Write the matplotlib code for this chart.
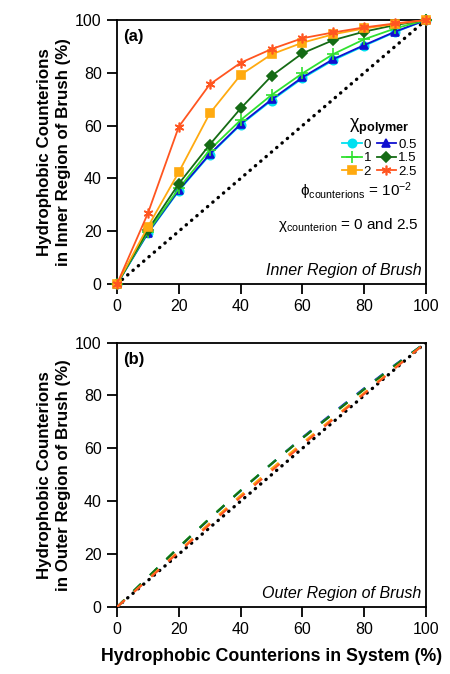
import matplotlib
matplotlib.use("Agg")
import matplotlib.pyplot as plt
import numpy as np

plt.rcParams["font.family"] = ["Liberation Sans", "DejaVu Sans"]
plt.rcParams["mathtext.fontset"] = "custom"
plt.rcParams["mathtext.rm"] = "Liberation Sans"
plt.rcParams["mathtext.it"] = "Liberation Sans:italic"
plt.rcParams["mathtext.bf"] = "Liberation Sans:bold"

# ── Data ──────────────────────────────────────────────────────────────────────
system_pct = [0, 10, 20, 30, 40, 50, 60, 70, 80, 90, 100]
chi_labels = ["0", "0.5", "1", "1.5", "2", "2.5"]

inner_chi0  = [0, 19.2, 35.3, 48.9, 60.3, 69.5, 77.9, 84.8, 90.2, 95.4, 100]
inner_chi05 = [0, 19.4, 35.6, 49.2, 60.6, 69.9, 78.3, 85.2, 90.5, 95.6, 100]
inner_chi1  = [0, 19.8, 36.2, 50.8, 62.1, 71.6, 79.8, 87.1, 92.7, 96.8, 100]
inner_chi15 = [0, 20.5, 38.0, 52.8, 66.5, 78.8, 87.4, 92.4, 95.6, 98.1, 100]
inner_chi2  = [0, 21.7, 42.4, 64.6, 79.2, 87.0, 91.4, 94.6, 96.8, 98.5, 100]
inner_chi25 = [0, 26.8, 59.6, 75.6, 83.8, 89.0, 93.1, 95.3, 97.2, 98.7, 100]

outer_chi0  = [0, 11.2, 22.5, 33.4, 43.9, 54.1, 63.9, 73.3, 82.5, 91.5, 100]
outer_chi05 = [0, 11.2, 22.5, 33.4, 44.0, 54.2, 64.1, 73.5, 82.7, 91.6, 100]
outer_chi1  = [0, 11.3, 22.7, 33.6, 44.1, 54.2, 63.9, 73.2, 82.4, 91.4, 100]
outer_chi15 = [0, 11.3, 22.6, 33.5, 44.0, 54.1, 63.8, 73.1, 82.3, 91.3, 100]
outer_chi2  = [0, 10.5, 21.2, 31.8, 42.2, 52.3, 62.0, 71.5, 81.0, 90.5, 100]
outer_chi25 = [0, 10.3, 20.8, 31.2, 41.5, 51.5, 61.3, 71.0, 80.6, 90.3, 100]

inner = [inner_chi0, inner_chi05, inner_chi1, inner_chi15, inner_chi2, inner_chi25]
outer = [outer_chi0, outer_chi05, outer_chi1, outer_chi15, outer_chi2, outer_chi25]

colors  = ["#00e0f0", "#1010d0", "#30e030", "#156b15", "#ffaa10", "#ff5520"]
markers = ["o", "^", "+", "D", "s", (6, 2, 0)]
msizes  = [6, 6, 8, 5.5, 5.5, 7]

# ── Plot ──────────────────────────────────────────────────────────────────────
fig = plt.figure(figsize=(4.5, 6.74), dpi=100)
ax_a = fig.add_axes([0.26, 0.5786, 0.6867, 0.3917])
ax_b = fig.add_axes([0.26, 0.0994, 0.6867, 0.3924])


def style_axes(ax, ylabel):
    ax.set_xlim(0, 100)
    ax.set_ylim(0, 100)
    ax.set_xticks(np.arange(0, 101, 20))
    ax.set_yticks(np.arange(0, 101, 20))
    ax.tick_params(direction="out", length=7, width=1.3, labelsize=11.5, pad=4)
    for sp in ax.spines.values():
        sp.set_linewidth(1.3)
    ax.set_ylabel(ylabel, fontsize=12.2, fontweight="bold", labelpad=3,
                  linespacing=1.3)
    # diagonal reference
    ax.plot([0, 100], [0, 100], color="black", lw=2.4, dashes=(0.1, 2.0),
            dash_capstyle="round", zorder=1)


style_axes(ax_a, "Hydrophobic Counterions\nin Inner Region of Brush (%)")
style_axes(ax_b, "Hydrophobic Counterions\nin Outer Region of Brush (%)")

# (a) inner region
handles = []
for vals, c, m, ms, lab in zip(inner, colors, markers, msizes, chi_labels):
    h, = ax_a.plot(system_pct, vals, color=c, marker=m, markersize=ms, lw=1.3,
                   markeredgewidth=1.2, clip_on=False, zorder=3, label=lab)
    handles.append(h)

order = [0, 2, 4, 1, 3, 5]
leg = ax_a.legend([handles[i] for i in order], [chi_labels[i] for i in order],
                  ncol=2, loc="upper right", bbox_to_anchor=(1.0, 0.67),
                  frameon=False, fontsize=9.5, handlelength=1.5,
                  handletextpad=0.15, columnspacing=0.4, labelspacing=0.1,
                  borderpad=0.2,
                  title=r"$\mathrm{\chi}_{\mathbf{polymer}}$", title_fontsize=13)

ax_a.text(0.955, 0.35, r"$\mathrm{\phi}_{\mathrm{counterions}}$ = 10$^{-2}$",
          transform=ax_a.transAxes, ha="right", va="center", fontsize=11)
ax_a.text(0.975, 0.225, r"$\mathrm{\chi}_{\mathrm{counterion}}$ = 0 and 2.5",
          transform=ax_a.transAxes, ha="right", va="center", fontsize=11)
ax_a.text(0.985, 0.05, "Inner Region of Brush", style="italic",
          transform=ax_a.transAxes, ha="right", va="center", fontsize=11.5)
ax_a.text(0.02, 0.965, "(a)", fontweight="bold", transform=ax_a.transAxes,
          ha="left", va="top", fontsize=12)

# (b) outer region
for vals, c in zip(outer, colors):
    ax_b.plot(system_pct, vals, color=c, lw=1.5, dashes=(5, 6), zorder=3)

ax_b.text(0.985, 0.05, "Outer Region of Brush", style="italic",
          transform=ax_b.transAxes, ha="right", va="center", fontsize=11.5)
ax_b.text(0.02, 0.965, "(b)", fontweight="bold", transform=ax_b.transAxes,
          ha="left", va="top", fontsize=12)
ax_b.set_xlabel("Hydrophobic Counterions in System (%)", fontsize=12.8,
                fontweight="bold", labelpad=8)

fig.savefig("out.png", dpi=100)
